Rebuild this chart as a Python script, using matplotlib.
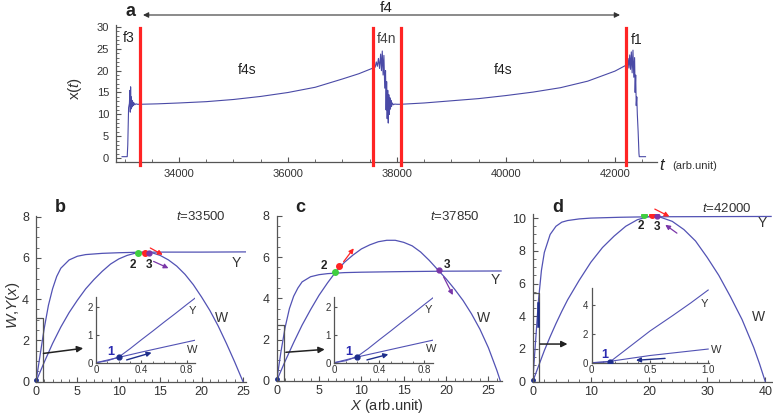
import matplotlib
matplotlib.use("Agg")
import matplotlib.pyplot as plt
from matplotlib.ticker import MultipleLocator

plt.rcParams['font.family'] = ['Liberation Sans', 'DejaVu Sans']
plt.rcParams['mathtext.fontset'] = 'custom'
plt.rcParams['mathtext.rm'] = 'Liberation Sans'
plt.rcParams['mathtext.it'] = 'Liberation Sans:italic'

# ---------------- data: panel a (time series x(t)) ----------------
a_seg1_t = [32955, 33050, 33060, 33075, 33090, 33100, 33106, 33112, 33118, 33124, 33130, 33138,
            33146, 33155, 33165, 33175, 33190, 33210, 33240, 33284]
a_seg1_x = [0.3, 0.3, 3.0, 11.5, 12.5, 15.5, 10.5, 16.3, 11.2, 14.0, 11.5, 13.2,
            11.8, 12.8, 12.0, 12.6, 12.2, 12.4, 12.3, 12.3]
a_f4s1_t = [33284, 33600, 34000, 34500, 35000, 35500, 36000, 36500, 37000, 37300, 37560]
a_f4s1_x = [12.3, 12.4, 12.6, 12.9, 13.4, 14.1, 15.0, 16.2, 18.1, 19.3, 20.6]
a_f4n_t = [37560, 37580, 37600, 37620, 37640, 37660, 37680, 37700, 37715, 37730, 37745, 37760,
           37775, 37790, 37800, 37810, 37820, 37830, 37840, 37850, 37860, 37870, 37880, 37890,
           37900, 37915, 37933, 37960, 38000, 38068]
a_f4n_x = [20.6, 21.3, 20.8, 22.0, 21.0, 22.8, 20.5, 23.8, 20.0, 24.5, 19.0, 23.5,
           16.0, 20.0, 11.0, 17.5, 9.0, 15.5, 8.0, 14.5, 10.0, 13.8, 11.2, 13.2,
           11.8, 12.6, 12.2, 12.35, 12.3, 12.3]
a_f4s2_t = [38068, 38500, 39000, 39500, 40000, 40500, 41000, 41500, 42000, 42196]
a_f4s2_x = [12.3, 12.6, 13.1, 13.6, 14.3, 15.1, 16.1, 17.6, 19.9, 21.2]
a_f1_t = [42196, 42210, 42225, 42240, 42255, 42270, 42285, 42300, 42315, 42330, 42345, 42360,
          42370, 42380, 42390, 42400, 42410, 42425, 42440, 42446, 42500, 42560]
a_f1_x = [21.2, 22.0, 21.0, 22.8, 20.6, 23.6, 20.3, 24.3, 19.5, 24.7, 18.5, 23.0,
          15.0, 19.0, 12.0, 14.0, 10.0, 6.0, 1.0, 0.3, 0.3, 0.3]
a_redlines = [33284, 37560, 38068, 42196]
a_xticks = [34000, 36000, 38000, 40000, 42000]
a_yticks = [0, 5, 10, 15, 20, 25, 30]

# ---------------- data: panel b (t=33500) ----------------
b_Y_x = [0, 0.5, 1, 1.5, 2, 2.5, 3, 4, 5, 6, 8, 10, 12, 15, 20, 25.3]
b_Y_y = [0, 1.3, 2.6, 3.7, 4.5, 5.1, 5.5, 5.9, 6.08, 6.16, 6.22, 6.25, 6.27, 6.28, 6.28, 6.29]
b_W_x = [0, 1, 2, 3, 4, 5, 6, 7, 8, 9, 10, 11, 12, 13, 14, 15, 16, 17, 18, 19, 20, 21, 22, 23, 24, 25]
b_W_y = [0, 0.95, 1.85, 2.65, 3.35, 3.95, 4.5, 4.95, 5.35, 5.7, 5.95, 6.12, 6.23, 6.28, 6.25,
         6.12, 5.9, 5.6, 5.2, 4.7, 4.1, 3.45, 2.7, 1.85, 0.95, 0]
b_pts = {'2': (12.3, 6.23), 'r': (13.2, 6.26), '3': (13.6, 6.23)}
b_in_Y_x = [0, 0.1, 0.2, 0.3, 0.4, 0.5, 0.6, 0.7, 0.8, 0.88]
b_in_Y_y = [0, 0.07, 0.2, 0.5, 0.82, 1.13, 1.45, 1.76, 2.08, 2.33]
b_in_W_x = [0, 0.2, 0.4, 0.6, 0.88]
b_in_W_y = [0, 0.19, 0.38, 0.56, 0.81]

# ---------------- data: panel c (t=37850) ----------------
c_Y_x = [0, 0.5, 1, 1.5, 2, 2.5, 3, 4, 5, 6, 8, 10, 15, 20, 26.5]
c_Y_y = [0, 1.4, 2.6, 3.5, 4.1, 4.5, 4.8, 5.05, 5.15, 5.2, 5.25, 5.27, 5.3, 5.32, 5.33]
c_W_x = [0, 1, 2, 3, 4, 5, 6, 7, 8, 9, 10, 11, 12, 13, 14, 15, 16, 17, 18, 19, 20, 21, 22,
         23, 24, 25, 26, 26.4]
c_W_y = [0, 0.95, 1.85, 2.7, 3.45, 4.15, 4.75, 5.3, 5.75, 6.1, 6.4, 6.6, 6.75, 6.82, 6.82,
         6.72, 6.55, 6.25, 5.85, 5.4, 4.95, 4.45, 3.9, 3.25, 2.5, 1.6, 0.5, 0]
c_pts = {'2': (6.9, 5.29), 'r': (7.4, 5.57), '3': (19.2, 5.37)}
c_in_Y_x = b_in_Y_x
c_in_Y_y = [0, 0.07, 0.21, 0.5, 0.82, 1.13, 1.45, 1.76, 2.08, 2.33]
c_in_W_x = b_in_W_x
c_in_W_y = [0, 0.2, 0.38, 0.56, 0.81]

# ---------------- data: panel d (t=42000) ----------------
d_Y_x = [0, 0.5, 1, 1.5, 2, 3, 4, 5, 6, 8, 10, 15, 20, 41]
d_Y_y = [0, 2.5, 5.0, 6.8, 7.9, 9.0, 9.5, 9.75, 9.85, 9.95, 10.0, 10.05, 10.08, 10.1]
d_W_x = [0, 1, 2, 3, 4, 5, 6, 8, 10, 12, 14, 16, 18, 20, 22, 24, 26, 28, 30, 32, 34, 36, 38, 39, 40]
d_W_y = [0, 0.95, 1.9, 2.75, 3.55, 4.3, 5.0, 6.2, 7.3, 8.2, 8.9, 9.5, 9.9, 10.1, 10.05, 9.8,
         9.3, 8.6, 7.6, 6.5, 5.2, 3.8, 2.1, 1.1, 0]
d_pts = {'2': (19.2, 10.16), 'r': (20.6, 10.16), '3': (21.3, 10.1)}
d_in_Y_x = [0, 0.1, 0.16, 0.3, 0.5, 0.7, 0.85, 1.0]
d_in_Y_y = [0, 0.03, 0.08, 0.95, 2.2, 3.3, 4.15, 5.05]
d_in_W_x = [0, 0.16, 0.5, 1.0]
d_in_W_y = [0, 0.1, 0.5, 0.95]

# ---------------- styling ----------------
W_PX, H_PX = 773, 416
CURVE = '#5252b4'
SERIES = '#4a4aa6'
GREEN = '#3fcf3f'
RED = '#ff2424'
PURPLE = '#7a36a8'
NAVY = '#1e2e8c'
TXT = '#333333'

fig = plt.figure(figsize=(W_PX / 100, H_PX / 100), dpi=100)
fig.patch.set_facecolor('white')


def px_axes(l, t, r, b):
    return fig.add_axes([l / W_PX, 1 - b / H_PX, (r - l) / W_PX, (b - t) / H_PX])


def ftext(x, y, s, **kw):
    return fig.text(x / W_PX, 1 - y / H_PX, s, **kw)


def style(ax, fs, major=3.5, minor=2, xpad=2.5, ypad=2.5):
    for s in ('top', 'right'):
        ax.spines[s].set_visible(False)
    for s in ('left', 'bottom'):
        ax.spines[s].set_color('#555555')
        ax.spines[s].set_linewidth(0.9)
    ax.tick_params(which='major', direction='in', length=major, width=0.8, color='#555555',
                   labelsize=fs, labelcolor=TXT)
    ax.tick_params(axis='x', which='major', pad=xpad)
    ax.tick_params(axis='y', which='major', pad=ypad)
    ax.tick_params(which='minor', direction='in', length=minor, width=0.6, color='#555555')
    ax.patch.set_alpha(0)


def arrow(ax, start, end, color, lw=1.0, ms=8, clip=False):
    ax.annotate('', xy=end, xytext=start,
                arrowprops=dict(arrowstyle='-|>', color=color, lw=lw, mutation_scale=ms,
                                shrinkA=0, shrinkB=0), annotation_clip=clip)


# ---------------- panel a ----------------
axa = px_axes(116, 25, 657, 162)
style(axa, 8, xpad=5, ypad=5)
for tt, xx in [(a_seg1_t, a_seg1_x), (a_f4s1_t, a_f4s1_x), (a_f4n_t, a_f4n_x),
               (a_f4s2_t, a_f4s2_x), (a_f1_t, a_f1_x)]:
    axa.plot(tt, xx, color=SERIES, lw=0.8)
for rl in a_redlines:
    axa.axvline(rl, ymin=-0.022, ymax=0.978, color=RED, lw=2.3, clip_on=False, zorder=5)
axa.set_xlim(32844, 42771)
axa.set_ylim(-0.92, 30.46)
axa.set_xticks(a_xticks)
axa.set_yticks(a_yticks)
axa.xaxis.set_minor_locator(MultipleLocator(500))
axa.yaxis.set_minor_locator(MultipleLocator(1))
ftext(75, 88, r'x($t$)', fontsize=11, rotation=90, ha='center', va='center', color=TXT)
ftext(663, 165, r'$t$', fontsize=12, ha='center', va='center', color='#222222')
ftext(672, 166, '(arb.unit)', fontsize=8, ha='left', va='center', color=TXT)
ftext(130, 12, 'a', fontsize=13, fontweight='bold', ha='center', va='center', color='#222222')
ftext(386, 8, 'f4', fontsize=11, ha='center', va='center', color='#222222')
axa.annotate('', xy=(620 / W_PX, 1 - 15 / H_PX), xytext=(143 / W_PX, 1 - 15 / H_PX),
             xycoords='figure fraction', textcoords='figure fraction',
             arrowprops=dict(arrowstyle='<|-|>', color='#333333', lw=0.8, mutation_scale=8,
                             shrinkA=0, shrinkB=0))
ftext(123, 38, 'f3', fontsize=10, ha='left', va='center', color='#222222')
ftext(377, 39, 'f4n', fontsize=10, ha='left', va='center', color='#444444')
ftext(631, 40, 'f1', fontsize=10, ha='left', va='center', color='#222222')
ftext(247, 70, 'f4s', fontsize=10, ha='center', va='center', color='#222222')
ftext(503, 70, 'f4s', fontsize=10, ha='center', va='center', color='#222222')


# ---------------- bottom panels ----------------
def main_panel(rect, xlim, ylim, Yx, Yy, Wx, Wy, xmaj, xmin, ymaj, ymin_, pts, box, box_arrow,
               arrows, lbl_pos, YW_pos, label, label_px, ttext, t_px):
    ax = px_axes(*rect)
    style(ax, 9, xpad=3, ypad=5)
    ax.plot(Yx, Yy, color=CURVE, lw=0.9)
    ax.plot(Wx, Wy, color=CURVE, lw=0.9)
    ax.set_xlim(*xlim)
    ax.set_ylim(*ylim)
    ax.xaxis.set_major_locator(MultipleLocator(xmaj))
    ax.xaxis.set_minor_locator(MultipleLocator(xmin))
    ax.yaxis.set_major_locator(MultipleLocator(ymaj))
    ax.yaxis.set_minor_locator(MultipleLocator(ymin_))
    bx, by = box
    ax.plot([0, bx, bx], [by, by, 0], color='#555555', lw=0.9)
    arrow(ax, box_arrow[0], box_arrow[1], '#222222', lw=1.1, ms=9)
    ax.plot([0], [0.1], 'o', color=NAVY, ms=2.5, clip_on=False)
    for start, end, col in arrows:
        arrow(ax, start, end, col, lw=0.9, ms=7)
    ax.plot(*pts['2'], 'o', color=GREEN, ms=4, zorder=6)
    ax.plot(*pts['r'], 'o', color=RED, ms=4, zorder=6)
    ax.plot(*pts['3'], 'o', color=PURPLE, ms=3.5, zorder=6)
    for s, (x, y) in lbl_pos.items():
        ax.text(x, y, s, fontsize=8.5, fontweight='bold', color='#222222', ha='center', va='center')
    (yx, yy), (wx, wy) = YW_pos
    ax.text(yx, yy, 'Y', fontsize=10, color=TXT, ha='center', va='center', clip_on=False)
    ax.text(wx, wy, 'W', fontsize=10, color=TXT, ha='center', va='center', clip_on=False)
    ftext(label_px[0], label_px[1], label, fontsize=13, fontweight='bold', ha='center',
          va='center', color='#222222')
    ftext(t_px[0], t_px[1], ttext, fontsize=9.5, ha='left', va='center', color=TXT)
    return ax


def inset(rect, xlim, ylim, Yx, Yy, Wx, Wy, xticks, yticks, xminor, p1, p1lbl, arr, YW_pos):
    ax = px_axes(*rect)
    style(ax, 7, major=2.5, minor=1.5, xpad=1.5, ypad=2.5)
    ax.plot(Yx, Yy, color=CURVE, lw=0.8)
    ax.plot(Wx, Wy, color=CURVE, lw=0.8)
    ax.set_xlim(*xlim)
    ax.set_ylim(*ylim)
    ax.set_xticks(xticks)
    ax.set_xticklabels([('%g' % v) if v != 1 else '1.0' for v in xticks])
    ax.set_yticks(yticks)
    ax.xaxis.set_minor_locator(MultipleLocator(xminor))
    ax.plot(*p1, 'o', color=NAVY, ms=3.5, zorder=6)
    ax.text(p1lbl[0], p1lbl[1], '1', fontsize=9, fontweight='bold', color='#2a2ab0',
            ha='center', va='center')
    arrow(ax, arr[0], arr[1], NAVY, lw=1.0, ms=7)
    (yx, yy), (wx, wy) = YW_pos
    ax.text(yx, yy, 'Y', fontsize=8, color=TXT, ha='center', va='center', clip_on=False)
    ax.text(wx, wy, 'W', fontsize=8, color=TXT, ha='center', va='center', clip_on=False)
    return ax


# panel b
axb = main_panel((36, 216, 246, 382), (0, 25.36), (-0.015, 8.03), b_Y_x, b_Y_y, b_W_x, b_W_y,
                 5, 1, 2, 0.5, b_pts, (0.9, 3.1), ((0.9, 1.37), (5.7, 1.62)),
                 [((13.8, 6.48), (15.3, 6.15), RED), ((14.2, 5.83), (16.0, 5.5), PURPLE)],
                 {'2': (11.75, 5.67), '3': (13.6, 5.67)}, ((24.2, 5.77), (22.4, 3.08)),
                 'b', (60, 207), r'$t$=33500', (176, 217))
ftext(13, 305, r'$W$,$Y$($x$)', fontsize=11, rotation=90, ha='center', va='center', color=TXT)
inset((96, 297, 195, 363), (0, 0.873), (-0.01, 2.35), b_in_Y_x, b_in_Y_y, b_in_W_x, b_in_W_y,
      [0, 0.4, 0.8], [0, 1, 2], 0.1, (0.2, 0.2), (0.13, 0.39), ((0.27, 0.1), (0.49, 0.36)),
      ((0.85, 1.86), (0.85, 0.45)))

# panel c
axc = main_panel((276.7, 216, 501.7, 381), (0, 26.57), (-0.015, 8.0), c_Y_x, c_Y_y, c_W_x, c_W_y,
                 5, 1, 2, 0.5, c_pts, (0.88, 2.7), ((1.08, 1.38), (5.67, 1.52)),
                 [((7.9, 5.78), (9.1, 6.43), RED), ((19.7, 5.05), (20.8, 4.16), PURPLE)],
                 {'2': (5.6, 5.58), '3': (20.1, 5.6)}, ((25.8, 4.9), (24.4, 3.03)),
                 'c', (300, 208), r'$t$=37850', (430, 216))
ftext(386.7, 406, r'$X$ (arb.unit)', fontsize=10.5, ha='center', va='center', color=TXT)
inset((334.3, 297, 433.3, 363), (0, 0.88), (-0.01, 2.35), c_in_Y_x, c_in_Y_y, c_in_W_x, c_in_W_y,
      [0, 0.4, 0.8], [0, 1, 2], 0.1, (0.2, 0.21), (0.13, 0.39), ((0.29, 0.1), (0.48, 0.3)),
      ((0.84, 1.9), (0.86, 0.5)))

# panel d
axd = main_panel((532.7, 214, 771.7, 382), (0, 41.1), (-0.02, 10.25), d_Y_x, d_Y_y, d_W_x, d_W_y,
                 10, 2, 2, 0.5, d_pts, (1.15, 5.45), ((1.26, 2.3), (5.98, 2.3)),
                 [((21.0, 10.55), (23.5, 10.1), RED), ((24.8, 9.08), (22.8, 9.59), PURPLE)],
                 {'2': (18.6, 9.49), '3': (21.3, 9.45)}, ((39.4, 9.7), (38.8, 3.98)),
                 'd', (558, 208), r'$t$=42000', (702, 209))
axd.plot([0.95, 0.95], [3.4, 4.8], color=NAVY, lw=1.8)
inset((591.7, 288, 709, 363), (0, 1.007), (-0.02, 5.19), d_in_Y_x, d_in_Y_y, d_in_W_x, d_in_W_y,
      [0, 0.5, 1.0], [0, 2, 4], 0.1, (0.16, 0.08), (0.11, 0.53), ((0.63, 0.3), (0.38, 0.17)),
      ((0.97, 4.1), (1.07, 0.88)))

fig.savefig('out.png', dpi=100, facecolor='white')
